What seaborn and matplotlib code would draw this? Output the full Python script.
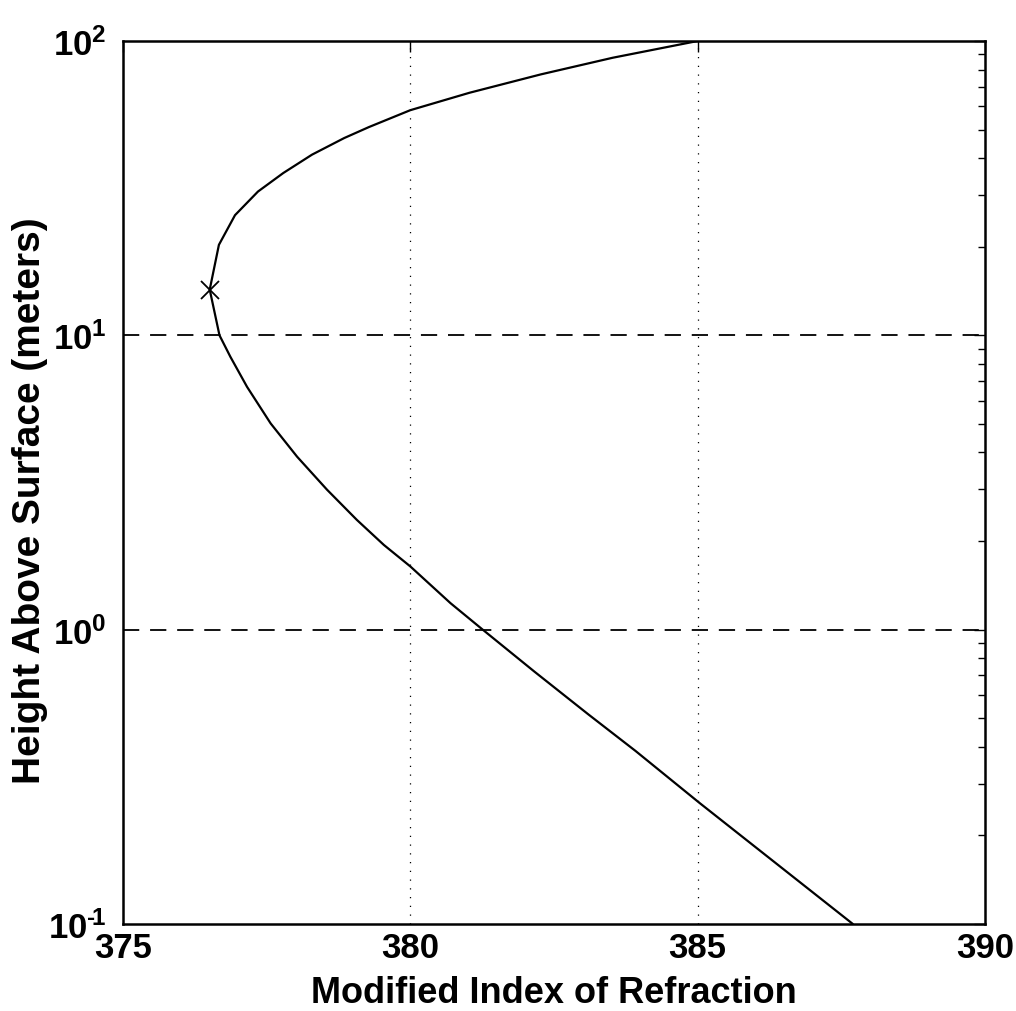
import matplotlib
matplotlib.use("Agg")
import matplotlib.pyplot as plt
import seaborn as sns
import pandas as pd
from matplotlib.ticker import LogLocator, FixedLocator, FixedFormatter, NullFormatter

# Modified refractivity profile (M-units) against height above the sea surface
height_m = [0.1, 0.258, 0.387, 0.515, 0.72, 1.0, 1.23, 1.64, 1.94, 2.36, 2.99,
            3.87, 5.02, 6.68, 8.45, 10.0, 14.3, 20.3, 25.6, 30.8, 35.6, 41.1,
            46.8, 51.0, 58.2, 66.7, 77.0, 87.7, 100.0]
mod_index = [387.7, 385.03, 383.92, 383.10, 382.16, 381.26, 380.70, 380.0,
             379.54, 379.07, 378.55, 378.03, 377.57, 377.16, 376.87, 376.68,
             376.51, 376.67, 376.95, 377.35, 377.79, 378.29, 378.85, 379.28,
             380.0, 381.03, 382.27, 383.52, 385.0]

# Duct height (minimum of M)
duct_height = [14.3]
duct_index = [376.51]

x_ticks = [375, 380, 385, 390]
x_tick_labels = ["375", "380", "385", "390"]
y_ticks = [0.1, 1, 10, 100]
y_tick_labels = ["$10^{\u2010\\!1}$", r"$10^{0}$", r"$10^{1}$", r"$10^{2}$"]

sns.set_theme(style="white")
plt.rcParams["font.family"] = ["Liberation Sans", "DejaVu Sans"]
plt.rcParams["font.weight"] = "bold"
plt.rcParams["mathtext.fontset"] = "custom"
plt.rcParams["mathtext.rm"] = "Liberation Sans:bold"
plt.rcParams["mathtext.it"] = "Liberation Sans:bold"
plt.rcParams["mathtext.bf"] = "Liberation Sans:bold"
plt.rcParams["mathtext.default"] = "rm"

profile = pd.DataFrame({"M": mod_index, "z": height_m})

fig = plt.figure(figsize=(10.16, 10.12), dpi=100)
ax = fig.add_axes([0.121, 0.086, 0.8485, 0.8725])

sns.lineplot(data=profile, x="M", y="z", sort=False, estimator=None,
             color="black", linewidth=1.6, ax=ax)
ax.plot(duct_index, duct_height, marker="x", color="black",
        markersize=13, markeredgewidth=1.3, linestyle="none")

ax.set_yscale("log")
ax.set_xlim(375, 390)
ax.set_ylim(0.1, 100)

# grid: faint dotted verticals, dashed horizontals
for xv in x_ticks[1:-1]:
    ax.axvline(xv, color="black", linestyle=(0, (1, 6)), linewidth=0.9, zorder=0)
for yv in y_ticks[1:-1]:
    ax.axhline(yv, color="black", linestyle=(0, (9, 6)), linewidth=1.3, zorder=0)

ax.xaxis.set_major_locator(FixedLocator(x_ticks))
ax.xaxis.set_major_formatter(FixedFormatter(x_tick_labels))
ax.yaxis.set_major_locator(FixedLocator(y_ticks))
ax.yaxis.set_major_formatter(FixedFormatter(y_tick_labels))
ax.yaxis.set_minor_locator(LogLocator(base=10, subs=range(2, 10)))
ax.yaxis.set_minor_formatter(NullFormatter())

ax.tick_params(axis="both", which="both", direction="in", top=True, right=True,
               color="black")
ax.tick_params(axis="both", which="major", length=8, width=1.0,
               labelsize=25, labelcolor="black")
ax.tick_params(axis="y", which="minor", length=5, width=1.0)
ax.tick_params(axis="x", which="major", pad=5)
ax.tick_params(axis="y", which="major", pad=12)

for spine in ax.spines.values():
    spine.set_color("black")
    spine.set_linewidth(1.8)
    spine.set_visible(True)

ax.set_xlabel("Modified Index of Refraction", fontsize=26, fontweight="bold",
              color="black", labelpad=8)
ax.set_ylabel("Height Above Surface (meters)", fontsize=28, fontweight="bold",
              color="black", labelpad=2)
ax.yaxis.set_label_coords(-0.087, 0.48)

fig.savefig("out.png", dpi=100, facecolor="white")
